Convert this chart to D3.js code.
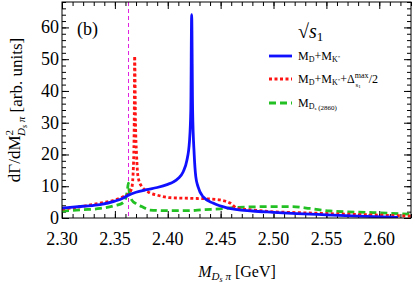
<!DOCTYPE html>
<html>
<head>
<meta charset="utf-8">
<script src="https://cdn.jsdelivr.net/npm/d3@7"></script>
<style>
  body { margin: 0; background: #fff; }
  svg, svg text { font-family: "Liberation Serif", "Times New Roman", Tinos, "DejaVu Serif", serif; }
</style>
</head>
<body>
<svg width="415" height="283" font-family="Liberation Serif, Times New Roman, DejaVu Serif, serif"></svg>
<script>
(() => {

    var width = 415;
    var height = 283;
    var margin = { top: 2, bottom: 65, left: 62, right: 4 };

    // x positions (GeV) and values
    var blueX = [2.30, 2.32, 2.336, 2.35, 2.358, 2.3629, 2.37, 2.38, 2.39, 2.40, 2.405, 2.41, 2.4145, 2.418, 2.4205, 2.4218, 2.4226, 2.4235, 2.425, 2.4265, 2.4286, 2.4333, 2.4428, 2.456, 2.48, 2.50, 2.522, 2.55, 2.58, 2.6177];
    var blueY = [3.1, 3.7, 4.2, 5.3, 6.3, 7.2, 8.1, 8.9, 9.6, 10.6, 11.3, 12.5, 14.5, 18, 24, 34, 64, 34, 20, 13, 9.9, 6.7, 4.7, 3.2, 2.2, 1.8, 1.4, 1.0, 0.6, 0.2];

    var redX = [2.30, 2.32, 2.336, 2.35, 2.3577, 2.3629, 2.366, 2.3675, 2.3683, 2.3687, 2.3695, 2.3705, 2.3719, 2.3754, 2.3832, 2.39, 2.402, 2.42, 2.44, 2.4494, 2.4589, 2.4655, 2.4806, 2.4967, 2.5222, 2.55, 2.58, 2.60, 2.63];
    var redY = [2.8, 3.7, 4.7, 5.7, 6.7, 7.6, 9.5, 16, 30, 51, 30, 20, 13, 9.9, 7.9, 7.2, 6.4, 6.2, 6.0, 5.7, 4.7, 3.1, 2.5, 2.0, 1.7, 1.4, 1.1, 0.9, 0.6];

    var greenX = [2.30, 2.32, 2.336, 2.35, 2.3577, 2.3605, 2.3618, 2.3627, 2.3637, 2.3659, 2.37, 2.3754, 2.3832, 2.40, 2.42, 2.433, 2.45, 2.4655, 2.48, 2.50, 2.5156, 2.5345, 2.5534, 2.5941, 2.63];
    var greenY = [2.2, 2.6, 3.0, 3.9, 4.8, 6.5, 8.5, 11, 8, 5.7, 4.5, 3.6, 2.5, 2.3, 2.3, 2.6, 2.9, 3.3, 3.5, 3.6, 3.6, 3.0, 2.2, 1.7, 1.2];

    var thresholdX = 2.3629;

    var xTicks = [2.30, 2.35, 2.40, 2.45, 2.50, 2.55, 2.60];
    var yTicks = [0, 10, 20, 30, 40, 50, 60];

    var x = d3.scaleLinear().domain([2.30, 2.63]).range([margin.left, width - margin.right]);
    var y = d3.scaleLinear().domain([0, 68]).range([height - margin.bottom, margin.top]);

    var svg = d3.select('svg');

    svg.append('clipPath').attr('id', 'clip')
        .append('rect')
        .attr('x', margin.left).attr('y', margin.top)
        .attr('width', width - margin.left - margin.right)
        .attr('height', height - margin.top - margin.bottom);

    // ticks: inside, on all four sides
    var xMinor = d3.range(2.30, 2.6301, 0.01);
    var yMinor = d3.range(0, 68.01, 2);

    function tickSide(axis, scale, vals, size, pos) {
        var g = svg.append('g').attr('transform', pos).call(axis(scale).tickValues(vals).tickSize(size).tickFormat(''));
        g.select('.domain').remove();
        g.selectAll('line').attr('stroke', '#000');
        return g;
    }
    var bottom = height - margin.bottom, top = margin.top;
    var left = margin.left, right = width - margin.right;
    tickSide(d3.axisTop, x, xMinor, 4, 'translate(0,' + bottom + ')');
    tickSide(d3.axisTop, x, xTicks, 7, 'translate(0,' + bottom + ')');
    tickSide(d3.axisBottom, x, xMinor, 4, 'translate(0,' + top + ')');
    tickSide(d3.axisBottom, x, xTicks, 7, 'translate(0,' + top + ')');
    tickSide(d3.axisRight, y, yMinor, 4, 'translate(' + left + ',0)');
    tickSide(d3.axisRight, y, yTicks, 7, 'translate(' + left + ',0)');
    tickSide(d3.axisLeft, y, yMinor, 4, 'translate(' + right + ',0)');
    tickSide(d3.axisLeft, y, yTicks, 7, 'translate(' + right + ',0)');

    // tick labels
    svg.append('g').selectAll('text').data(xTicks).enter().append('text')
        .attr('x', d => x(d)).attr('y', bottom + 27)
        .attr('text-anchor', 'middle').attr('font-size', 18)
        .text(d => d3.format('.2f')(d));

    svg.append('g').selectAll('text').data(yTicks).enter().append('text')
        .attr('x', left - 3).attr('y', d => y(d) + 6)
        .attr('text-anchor', 'end').attr('font-size', 18)
        .text(d => d);

    // threshold line
    svg.append('line')
        .attr('x1', x(thresholdX)).attr('x2', x(thresholdX))
        .attr('y1', top).attr('y2', bottom)
        .attr('stroke', '#e020e0').attr('stroke-width', 1)
        .attr('stroke-dasharray', '4,3');

    var line = d3.line().curve(d3.curveMonotoneX);

    function curve(xs, ys, color, dash) {
        svg.append('path')
            .attr('clip-path', 'url(#clip)')
            .attr('d', line(xs.map((v, i) => [x(v), y(ys[i])])))
            .attr('fill', 'none')
            .attr('stroke', color)
            .attr('stroke-width', 2.8)
            .attr('stroke-dasharray', dash);
    }
    curve(greenX, greenY, '#22c022', '7,4');
    curve(redX, redY, '#ff1414', '3,2.5');
    curve(blueX, blueY, '#1010ff', null);

    // frame
    svg.append('rect')
        .attr('x', left).attr('y', top)
        .attr('width', right - left).attr('height', bottom - top)
        .attr('fill', 'none').attr('stroke', '#000').attr('stroke-width', 1);

    // panel label
    svg.append('text').attr('x', 77).attr('y', 35).attr('font-size', 18).text('(b)');

    // legend
    var title = svg.append('text').attr('x', 298).attr('y', 38).attr('font-size', 20);
    title.append('tspan').text('√');
    title.append('tspan').attr('font-style', 'italic').text('s');
    title.append('tspan').attr('font-size', 13).attr('dy', 3).text('1');

    var legY = [56, 79, 103];
    var legColor = ['#1010ff', '#ff1414', '#22c022'];
    var legDash = [null, '3,2.5', '7,4'];
    legY.forEach((ly, i) => {
        svg.append('line').attr('x1', 269).attr('x2', 292).attr('y1', ly).attr('y2', ly)
            .attr('stroke', legColor[i]).attr('stroke-width', 2.8).attr('stroke-dasharray', legDash[i]);
    });

    var t1 = svg.append('text').attr('x', 298).attr('y', legY[0] + 4).attr('font-size', 12);
    t1.append('tspan').text('M');
    t1.append('tspan').attr('font-size', 8).attr('dy', 2).text('D');
    t1.append('tspan').attr('dy', -2).text('+M');
    t1.append('tspan').attr('font-size', 8).attr('dy', 2).text('K');
    t1.append('tspan').attr('font-size', 5).attr('dy', -3).text('*');

    var t2 = svg.append('text').attr('x', 298).attr('y', legY[1] + 4).attr('font-size', 12);
    t2.append('tspan').text('M');
    t2.append('tspan').attr('font-size', 8).attr('dy', 2).text('D');
    t2.append('tspan').attr('dy', -2).text('+M');
    t2.append('tspan').attr('font-size', 8).attr('dy', 2).text('K');
    t2.append('tspan').attr('font-size', 5).attr('dy', -3).text('*');
    t2.append('tspan').attr('dy', 1).text('+Δ');
    t2.append('tspan').attr('font-size', 8).attr('dy', -5).text('max');
    t2.append('tspan').attr('font-size', 7).attr('dx', -13).attr('dy', 9).text('s');
    t2.append('tspan').attr('font-size', 5).attr('dy', 1).text('1');
    t2.append('tspan').attr('dx', 8).attr('dy', -5).text('/2');

    var t3 = svg.append('text').attr('x', 298).attr('y', legY[2] + 4).attr('font-size', 12);
    t3.append('tspan').text('M');
    t3.append('tspan').attr('font-size', 8).attr('dy', 2).text('D');
    t3.append('tspan').attr('font-size', 5).attr('dy', 1).text('s');
    t3.append('tspan').attr('font-size', 7).attr('dy', 0).text(' (2860)');

    // axis titles
    var xl = svg.append('text').attr('x', 237).attr('y', 277).attr('text-anchor', 'middle').attr('font-size', 16);
    xl.append('tspan').attr('font-style', 'italic').text('M');
    xl.append('tspan').attr('font-style', 'italic').attr('font-size', 11).attr('dy', 3).text('D');
    xl.append('tspan').attr('font-style', 'italic').attr('font-size', 8).attr('dy', 2).text('s');
    xl.append('tspan').attr('font-style', 'italic').attr('font-size', 11).attr('dy', -2).text(' π');
    xl.append('tspan').attr('dy', -3).text(' [GeV]');

    var yl = svg.append('text').attr('transform', 'translate(20,110) rotate(-90)')
        .attr('text-anchor', 'middle').attr('font-size', 17);
    yl.append('tspan').text('dΓ/dM');
    yl.append('tspan').attr('font-size', 11).attr('dy', -7).text('2');
    yl.append('tspan').attr('font-style', 'italic').attr('font-size', 11).attr('dx', -6).attr('dy', 12).text('D');
    yl.append('tspan').attr('font-style', 'italic').attr('font-size', 8).attr('dy', 2).text('s');
    yl.append('tspan').attr('font-style', 'italic').attr('font-size', 11).attr('dy', -2).text(' π');
    yl.append('tspan').attr('dy', -3).text(' [arb. units]');

})();
</script>
</body>
</html>
